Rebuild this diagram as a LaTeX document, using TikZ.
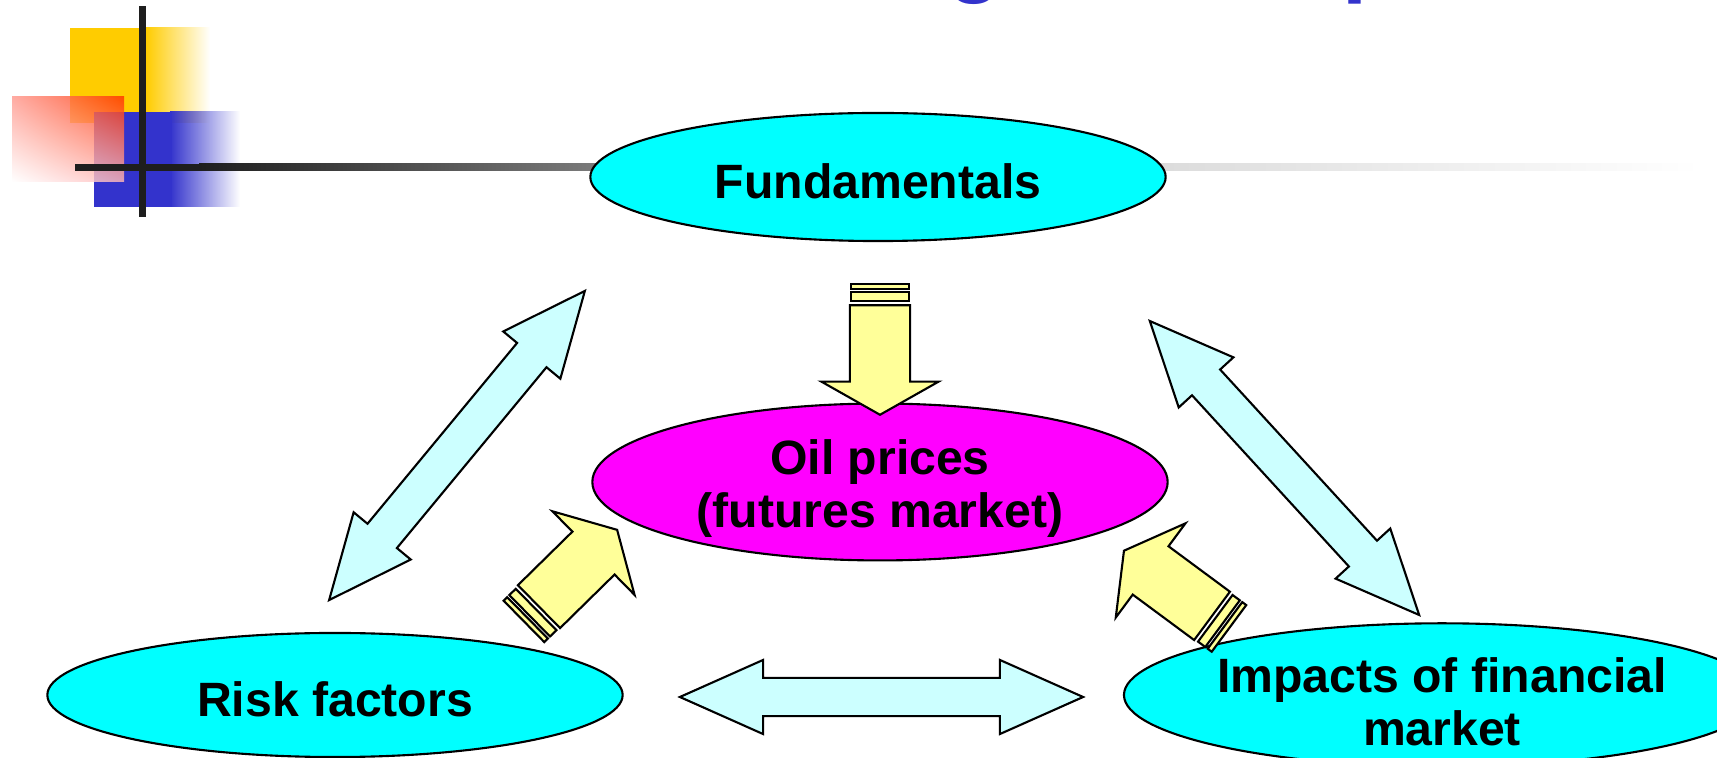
\documentclass[tikz,border=0pt]{standalone}
\usepackage{fontspec}
\setmainfont{Liberation Sans}
\usepackage{tikz}
\usetikzlibrary{shapes.geometric,shapes.arrows,fadings,shadings,calc}
\definecolor{bubblecyan}{HTML}{00FFFF}
\definecolor{bubblemag}{HTML}{FF00FF}
\definecolor{linkblue}{HTML}{CCFFFF}
\definecolor{pushyellow}{HTML}{FFFF99}
\definecolor{decoyellow}{HTML}{FFCC00}
\definecolor{decored}{HTML}{FF3300}
\definecolor{decopink}{HTML}{FF9A90}
\definecolor{decorose}{HTML}{FFB8B8}
\definecolor{decoblue}{HTML}{3333CC}
\definecolor{barblack}{HTML}{1E1E1E}
\definecolor{barmid}{HTML}{7A7A7A}
\definecolor{barlight}{HTML}{DCDCDC}
\tikzfading[name=fade right, left color=transparent!0, right color=transparent!100]
\tikzstyle{bubble}=[ellipse,draw,line width=0.6pt,minimum width=5.75cm,inner sep=0pt,font=\bfseries\fontsize{13.7}{15}\selectfont,align=center]
\tikzstyle{oneline}=[text height=1.2em,text depth=0pt]
\tikzstyle{link}=[double arrow,draw,line width=0.6pt,fill=linkblue,double arrow head extend=0.18cm,double arrow tip angle=48,inner xsep=0pt,inner ysep=0.18cm]
\tikzstyle{push}=[single arrow,draw,line width=0.6pt,fill=pushyellow,minimum height=1.095cm,single arrow head extend=0.285cm,single arrow tip angle=121,inner xsep=0pt,inner ysep=0.29cm,anchor=tip]
\tikzstyle{band}=[rectangle,draw,line width=0.6pt,fill=pushyellow,minimum height=0.58cm,inner sep=0pt]
\tikzstyle{titlebit}=[text=decoblue,font=\bfseries\fontsize{25.6}{30}\selectfont,inner sep=0pt,anchor=base west]
\newcommand{\toplift}{\rule{0pt}{1em}}

\begin{document}
\begin{tikzpicture}[x=0.01cm,y=-0.01cm]
      \clip (0,0) rectangle (1717,758);
      % corner decoration of the slide
      \fill[decoyellow] (70,28) rectangle (146,123);
      \fill[decoyellow,path fading=fade right] (146,27) rectangle (210,123);
      \fill[decoblue] (94,112) rectangle (172,207);
      \fill[decoblue,path fading=fade right] (170,111) rectangle (240,207);
      \shade[upper right=decored,upper left=decopink,lower right=decorose,lower left=white,fill opacity=0.82] (12,97) rectangle (124,182);
      \fill[barblack] (75,164) rectangle (200,171);
      \shade[left color=barblack,right color=barmid] (199,164) rectangle (592,171);
      \shade[left color=barmid,right color=barlight] (591,164) rectangle (1167,171);
      \shade[left color=barlight,right color=white] (1166,164) rectangle (1700,171);
      \fill[barblack] (139,6) rectangle (146,217);
      % what is left of the title
      \node[titlebit] (tg) at (947,-14) {g};
      \node[titlebit] (tp) at (1342,-14) {p};
      % the four ellipses
      \node[bubble,oneline,fill=bubblecyan,minimum height=1.28cm] (fund) at (878,177) {Fundamentals};
      \node[bubble,fill=bubblemag,minimum height=1.32cm] (oil) at (880,482) {\toplift Oil prices\\(futures market)};
      \node[bubble,oneline,fill=bubblecyan,minimum height=1.24cm] (risk) at (335,695) {Risk factors};
      \node[bubble,fill=bubblecyan,minimum height=1.24cm] (impact) at (1442,695) {\toplift Impacts of financial\\market};
      % two-way links
      \node[link,minimum height=4.01cm,rotate=50.4] (linkleft) at (457,445.5) {};
      \node[link,minimum height=3.985cm,rotate=-47.5] (linkright) at (1284.5,468) {};
      \node[link,minimum height=4.03cm] (linkbottom) at (881.5,697) {};
      % arrows pushing on the oil price
      \node[push,rotate=-90] (pushtop) at (880,416) {};
      \node[band,minimum width=0.09cm,rotate=-90] (pushtopa) at ($(pushtop.tail)!-0.075cm!(pushtop.tip)$) {};
      \node[band,minimum width=0.05cm,rotate=-90] (pushtopb) at ($(pushtop.tail)!-0.175cm!(pushtop.tip)$) {};
      \node[push,rotate=44.5] (pushleft) at (618,529) {};
      \node[band,minimum width=0.09cm,rotate=44.5] (pushlefta) at ($(pushleft.tail)!-0.075cm!(pushleft.tip)$) {};
      \node[band,minimum width=0.05cm,rotate=44.5] (pushleftb) at ($(pushleft.tail)!-0.175cm!(pushleft.tip)$) {};
      \node[push,rotate=143.5] (pushright) at (1123,550) {};
      \node[band,minimum width=0.09cm,rotate=143.5] (pushrighta) at ($(pushright.tail)!-0.075cm!(pushright.tip)$) {};
      \node[band,minimum width=0.05cm,rotate=143.5] (pushrightb) at ($(pushright.tail)!-0.175cm!(pushright.tip)$) {};
\end{tikzpicture}
\end{document}
